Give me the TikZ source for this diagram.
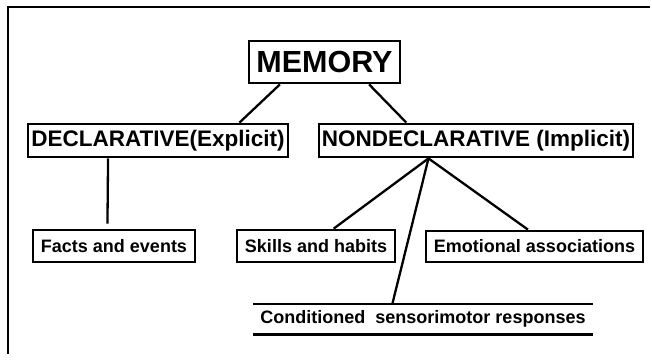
\documentclass[tikz,border=0pt]{standalone}
\usepackage{fontspec}
\setmainfont{Liberation Sans}
\usetikzlibrary{calc}

\begin{document}
\begin{tikzpicture}[x=1pt, y=-1pt, box/.style = {shape=rectangle, draw, line width=2.8pt, align=center, inner sep=0pt, font=\bfseries\fontsize{18}{20}\selectfont, minimum height=32pt}, head/.style = {box, font=\bfseries\fontsize{22.5}{26}\selectfont, minimum height=33pt}, link/.style = {line width=2.3pt}]
	\useasboundingbox (0,0) rectangle (652,363);
	\draw[line width=1.2pt] (650,7) -- (8,7) -- (8,354);
	% boxes
	\node[box, font=\bfseries\fontsize{30.5}{34}\selectfont, minimum width=151pt, minimum height=42pt] (memory) at (324.5,62) {MEMORY};
	\node[head, minimum width=260pt] (decl) at (158,140.5) {DECLARATIVE(Explicit)};
	\node[head, minimum width=314pt] (nondecl) at (476,140.5) {NONDECLARATIVE (Implicit)};
	\node[box, minimum width=162pt] (facts) at (114,246) {Facts and events};
	\node[box, minimum width=158pt] (skills) at (316,246) {Skills and habits};
	\node[box, minimum width=217pt, minimum height=31pt] (emotional) at (534.5,246.5) {Emotional associations};
	\node[inner sep=0pt, font=\bfseries\fontsize{18}{20}\selectfont, minimum width=340pt, minimum height=30pt] (conditioned) at (423,319) {Conditioned\ \ sensorimotor responses};
	\draw[line width=2.6pt] (conditioned.north west) -- (conditioned.north east) (conditioned.south west) -- (conditioned.south east);
	% connectors
	\coordinate (hub) at ($(nondecl.south west)!0.35!(nondecl.south east)$);
	\draw[link] ($(memory.south west)!0.21!(memory.south east)$) -- ($(decl.north west)!0.81!(decl.north east)$);
	\draw[link] ($(memory.south west)!0.79!(memory.south east)$) -- ($(nondecl.north west)!0.28!(nondecl.north east)$);
	\draw[link, shorten >=5pt] ($(decl.south west)!0.31!(decl.south east)$) -- ($(facts.north west)!0.46!(facts.north east)$);
	\draw[link] (hub) -- ($(skills.north west)!0.61!(skills.north east)$);
	\draw[link] (hub) -- ($(emotional.north west)!0.47!(emotional.north east)$);
	\draw[link] (hub) -- ($(conditioned.north west)!0.41!(conditioned.north east)$);
\end{tikzpicture}
\end{document}
